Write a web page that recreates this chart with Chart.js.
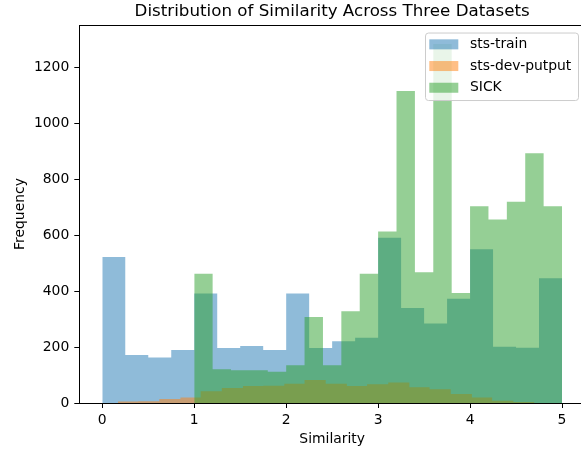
<!DOCTYPE html>
<html>
<head>
<meta charset="utf-8">
<script src="https://cdn.jsdelivr.net/npm/chart.js@4/dist/chart.umd.min.js"></script>
<style>
  html, body { margin: 0; padding: 0; background: #fff; overflow: hidden; }
  canvas { display: block; }
</style>
</head>
<body>
<canvas id="chart" width="600" height="450"></canvas>
<script>
// histogram data (bin edges + counts per bin)
const seriesNames = ["sts-train", "sts-dev-putput", "SICK"];

const trainEdges = [0, 0.25, 0.5, 0.75, 1, 1.25, 1.5, 1.75, 2, 2.25, 2.5,
  2.75, 3, 3.25, 3.5, 3.75, 4, 4.25, 4.5, 4.75, 5];
const trainCounts = [523, 172, 163, 190, 392, 197, 204, 190, 392, 197,
  221, 234, 592, 340, 285, 373, 550, 201, 198, 447];

const devEdges = [0.17, 0.39, 0.62, 0.85, 1.07, 1.3, 1.53, 1.75, 1.98, 2.2, 2.43,
  2.66, 2.88, 3.11, 3.34, 3.56, 3.79, 4.02, 4.24, 4.47, 4.7];
const devCounts = [5, 6, 14, 20, 42, 54, 61, 62, 69, 82,
  69, 61, 67, 73, 56, 49, 32, 20, 8, 4];

const sickEdges = [1, 1.2, 1.4, 1.6, 1.8, 2, 2.2, 2.4, 2.6, 2.8, 3,
  3.2, 3.4, 3.6, 3.8, 4, 4.2, 4.4, 4.6, 4.8, 5];
const sickCounts = [463, 121, 117, 117, 112, 135, 308, 135, 328, 463,
  614, 1117, 468, 1285, 394, 704, 657, 720, 894, 704];

const xTicks = [0, 1, 2, 3, 4, 5];
const yTicks = [0, 200, 400, 600, 800, 1000, 1200];

// turn edges/counts into points for a stepped filled line
function steps(edges, counts) {
  const pts = counts.map((c, i) => ({ x: edges[i], y: c }));
  pts.push({ x: edges[edges.length - 1], y: counts[counts.length - 1] });
  return pts;
}

Chart.defaults.font.family = "'DejaVu Sans', sans-serif";
Chart.defaults.color = "#000";

const colors = ["rgba(31,119,180,0.5)", "rgba(255,127,14,0.5)", "rgba(44,160,44,0.5)"];

function histSet(i, edges, counts) {
  return {
    label: seriesNames[i],
    data: steps(edges, counts),
    stepped: "before",
    fill: "origin",
    backgroundColor: colors[i],
    borderColor: "transparent",
    borderWidth: 0,
    pointRadius: 0,
    order: 3 - i,
  };
}

// matplotlib-like frame and legend box
const frameAndLegend = {
  id: "frameAndLegend",
  afterDraw(chart) {
    const { ctx, chartArea } = chart;
    ctx.save();
    ctx.strokeStyle = "#000";
    ctx.lineWidth = 1;
    ctx.beginPath();
    ctx.moveTo(chartArea.left, Math.round(chartArea.top) + 0.5);
    ctx.lineTo(chartArea.right, Math.round(chartArea.top) + 0.5);
    ctx.stroke();

    const w = 153, h = 67.5;
    const bx = chartArea.right - 7 - w, by = chartArea.top + 7.5;
    ctx.beginPath();
    ctx.roundRect(bx + 0.5, by + 0.5, w, h, 3);
    ctx.fillStyle = "rgba(255,255,255,0.8)";
    ctx.fill();
    ctx.strokeStyle = "#cccccc";
    ctx.stroke();

    ctx.font = "13.9px 'DejaVu Sans'";
    ctx.textBaseline = "middle";
    chart.data.datasets.forEach((ds, i) => {
      const cy = by + 11.8 + i * 21.7;
      ctx.fillStyle = ds.backgroundColor;
      ctx.fillRect(bx + 4.3, cy - 5, 29, 10);
      ctx.fillStyle = "#000";
      ctx.fillText(ds.label, bx + 45, cy);
    });
    ctx.restore();
  },
};

new Chart(document.getElementById("chart"), {
  type: "line",
  data: {
    datasets: [
      histSet(0, trainEdges, trainCounts),
      histSet(1, devEdges, devCounts),
      histSet(2, sickEdges, sickCounts),
    ],
  },
  options: {
    responsive: false,
    animation: false,
    events: [],
    layout: { padding: { left: 0, right: 15, top: 0, bottom: 0 } },
    plugins: {
      legend: { display: false },
      tooltip: { enabled: false },
      title: {
        display: true,
        text: "Distribution of Similarity Across Three Datasets",
        fullSize: false,
        font: { size: 16.7, weight: "normal" },
        padding: { top: 1.5, bottom: 3.5 },
      },
    },
    scales: {
      x: {
        type: "linear",
        min: -0.25,
        max: 5.25,
        afterBuildTicks: (s) => { s.ticks = xTicks.map((v) => ({ value: v })); },
        afterFit: (s) => { s.height = 47; },
        grid: { drawOnChartArea: false, color: "#000", tickLength: 5 },
        border: { display: true, color: "#000", width: 1 },
        ticks: { font: { size: 13.9 }, padding: 4, maxRotation: 0, callback: (v) => String(v) },
        title: {
          display: true,
          text: "Similarity",
          font: { size: 13.9 },
          padding: { top: 0, bottom: 2.6 },
        },
      },
      y: {
        min: 0,
        max: 1353,
        afterBuildTicks: (s) => { s.ticks = yTicks.map((v) => ({ value: v })); },
        afterFit: (s) => { s.width = 79.3; },
        grid: { drawOnChartArea: false, color: "#000", tickLength: 5 },
        border: { display: true, color: "#000", width: 1 },
        ticks: { font: { size: 13.9 }, padding: 5, callback: (v) => String(v) },
        title: {
          display: true,
          text: "Frequency",
          font: { size: 13.9 },
          padding: { top: 11.6, bottom: 0 },
        },
      },
    },
  },
  plugins: [frameAndLegend],
});
</script>
</body>
</html>
